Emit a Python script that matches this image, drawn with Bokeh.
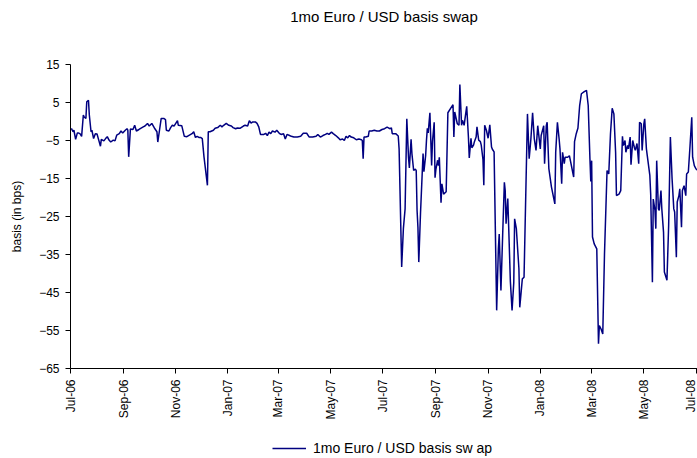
import math
import pandas as pd
from bokeh.plotting import figure
from bokeh.layouts import column
from bokeh.models import (FixedTicker, DatetimeTickFormatter, Range1d, Legend,
                          LegendItem, ColumnDataSource)
from bokeh.embed import file_html
from bokeh.resources import INLINE

# ---- data: days since 2006-07-01 and basis (bps) ----
BASE_DATE = "2006-07-01"

days_h2_2006 = [1, 3, 4, 6, 8, 9, 11, 13, 15, 16,
                18, 19, 21, 22, 24, 25, 27, 29, 31, 33,
                35, 36, 39, 41, 43, 45, 47, 50, 52, 54,
                57, 59, 61, 64, 66, 67, 68, 70, 73, 75,
                77, 80, 82, 85, 87, 90, 92, 95, 98, 101,
                102, 104, 106, 109, 111, 112, 115, 117, 119, 121,
                123, 125, 126, 130, 133, 136, 139, 142, 144, 146,
                148, 150, 152, 154, 156, 160, 161, 163, 167, 169,
                172, 175, 177, 179, 182]
bps_h2_2006 = [-1.8, -2.7, -2.3, -4.7, -3.0, -3.0, -3.2, -3.9, 1.7, 1.2,
               0.8, 5.2, 5.6, 1.7, -2.7, -2.3, -4.5, -3.2, -3.3, -4.9,
               -6.5, -4.7, -5.1, -4.5, -4.0, -4.9, -5.4, -4.9, -5.1, -3.6,
               -3.2, -2.5, -3.0, -2.3, -1.9, -2.3, -9.3, -2.0, -2.1, -1.0,
               -2.5, -2.1, -1.8, -1.4, -1.2, -0.5, -1.2, -0.5, -1.7, -2.7,
               -5.4, -2.3, 0.8, 0.8, 0.5, -2.3, -2.5, -1.6, -1.0, -1.2,
               -0.5, 0.2, -1.0, -1.1, -3.9, -4.0, -3.6, -3.2, -2.7, -4.2,
               -3.9, -4.2, -4.2, -4.5, -9.3, -16.8, -2.7, -2.7, -2.3, -1.8,
               -1.6, -1.0, -1.4, -1.0, -0.5]

days_h1_2007 = [185, 188, 190, 193, 195, 198, 202, 204, 207, 209,
                211, 213, 216, 218, 220, 222, 226, 228, 230, 232,
                234, 236, 239, 241, 244, 246, 249, 251, 253, 256,
                258, 261, 265, 269, 272, 276, 279, 283, 287, 289,
                292, 295, 298, 300, 302, 305, 307, 310, 313, 315,
                318, 320, 322, 324, 326, 328, 331, 334, 337, 340,
                341, 342, 343, 345, 348, 349, 352, 355, 358, 361,
                364, 367, 370, 373, 375, 376]
bps_h1_2007 = [-1.0, -1.2, -1.6, -1.9, -1.7, -1.8, -1.2, -1.0, -1.2, 0.2,
               -0.4, -0.1, -0.1, -0.5, -1.4, -3.4, -3.4, -3.1, -3.7, -2.8,
               -3.2, -2.5, -2.8, -2.3, -3.1, -3.4, -3.2, -4.6, -3.4, -3.7,
               -3.9, -4.1, -4.1, -3.9, -3.1, -3.1, -4.1, -4.1, -3.9, -3.4,
               -4.1, -3.7, -3.4, -3.1, -3.4, -2.8, -3.2, -3.7, -4.3, -4.8,
               -4.6, -5.0, -3.9, -4.3, -3.7, -4.1, -4.3, -4.8, -4.6, -4.8,
               -5.0, -9.8, -4.1, -4.1, -3.9, -2.5, -2.5, -2.3, -2.5, -2.5,
               -2.1, -1.9, -1.5, -1.9, -1.7, -3.2]

days_h2_2007 = [380, 383, 384, 387, 389, 391, 393, 395, 396, 398,
                399, 401, 403, 404, 405, 406, 407, 409, 411, 412,
                413, 415, 416, 417, 418, 420, 422, 423, 425, 426,
                427, 429, 430, 431, 433, 434, 436, 439, 441, 444,
                447, 448, 449, 452, 454, 455, 457, 458, 460, 461,
                463, 465, 466, 468, 469, 471, 472, 474, 475, 477,
                479, 480, 482, 483, 484, 486, 488, 490, 492, 493,
                495, 498, 500, 501, 503, 505, 507, 508, 509, 511,
                512, 514, 516, 518, 519, 521, 524, 525, 528, 530]
bps_h2_2007 = [-3.2, -3.8, -7.2, -38.3, -28.2, -23.0, 0.7, -9.5, -12.2, -4.7,
               -8.5, -12.9, -12.5, -12.9, -23.4, -27.8, -37.0, -24.2, -13.6, -8.4,
               -13.2, -9.0, -4.9, -1.8, -3.0, 2.3, -11.6, -5.3, -0.2, -14.8,
               -12.6, -10.2, -11.6, -9.4, -21.4, -16.4, -19.1, -18.5, 2.3, 3.4,
               4.4, -4.1, 2.5, -0.6, -1.0, 9.7, -1.0, 0.3, -1.0, 0.7,
               4.0, -4.1, -9.6, -4.4, -6.9, -6.2, -5.3, -4.1, -1.4, -4.9,
               -5.3, -6.2, -10.0, -16.8, -1.0, -2.3, -4.4, -0.9, -6.7, -7.3,
               -8.0, -49.7, -33.5, -29.6, -44.5, -30.0, -16.0, -18.2, -26.9, -20.3,
               -27.3, -42.0, -49.7, -42.4, -25.6, -28.2, -38.7, -48.9, -41.4, -41.0]

days_h1_2008 = [534, 536, 538, 540, 542, 544, 546, 549, 550, 553,
                554, 556, 557, 559, 562, 566, 567, 569, 571, 572,
                574, 575, 577, 578, 581, 583, 588, 589, 591, 593,
                595, 597, 600, 603, 605, 607, 608, 609, 610, 612,
                615, 617, 618, 620, 622, 624, 627, 629, 631, 633,
                635, 637, 638, 641, 643, 645, 646, 648, 649, 651,
                652, 654, 655, 657, 659, 660, 662, 664, 665, 667,
                668, 670, 671, 673, 674, 677, 678, 680, 681, 683,
                684, 685, 687, 688, 690, 691, 693, 694, 697, 699,
                701, 703, 705, 706, 708, 709, 711, 712, 714, 715,
                717, 719, 720, 722, 724, 726, 727, 729, 731, 733]
bps_h1_2008 = [2.0, -9.8, -4.6, 2.3, -4.6, -7.6, -1.1, -7.2, -3.7, -1.1,
               -11.1, -1.1, -0.2, -12.4, -17.2, -21.7, -8.1, -0.2, -4.6, -7.2,
               -16.4, -8.1, -11.1, -9.4, -9.4, -9.0, -14.6, -5.3, -3.2, -1.7,
               4.2, 7.3, 7.8, 8.2, 4.2, -9.8, -15.8, -10.3, -30.4, -32.2,
               -33.5, -58.5, -53.7, -54.6, -55.9, -35.0, -12.9, -13.8, -3.3, 3.5,
               2.0, -8.1, -19.5, -19.1, -18.2, -3.9, -6.3, -5.0, -8.1, -6.3,
               -7.2, -4.1, -11.4, -5.0, -6.9, -7.6, -5.8, -11.1, -0.2, -0.6,
               -7.6, -0.6, 0.7, -7.2, -9.0, -14.2, -19.1, -42.3, -20.4, -23.4,
               -28.2, -10.3, -23.0, -23.4, -18.2, -23.0, -29.1, -39.6, -41.8, -27.3,
               -4.1, -15.1, -23.0, -23.8, -35.7, -21.2, -19.5, -17.7, -27.8, -18.2,
               -16.9, -19.5, -13.8, -13.3, -6.3, 1.1, -9.4, -11.6, -12.5, -12.9]

tick_dates = ["2006-07-01", "2006-09-01", "2006-11-01", "2007-01-01", "2007-03-01",
              "2007-05-01", "2007-07-01", "2007-09-01", "2007-11-01", "2008-01-01",
              "2008-03-01", "2008-05-01", "2008-07-01"]
y_ticks = [-65, -55, -45, -35, -25, -15, -5, 5, 15]

TITLE = "1mo Euro / USD basis swap"
SERIES = "1mo Euro / USD basis sw ap"
Y_LABEL = "basis (in bps)"

# ---- build ----
all_days = days_h2_2006 + days_h1_2007 + days_h2_2007 + days_h1_2008
all_bps = bps_h2_2006 + bps_h1_2007 + bps_h2_2007 + bps_h1_2008
assert len(all_days) == len(all_bps)

base = pd.Timestamp(BASE_DATE)
dates = [base + pd.Timedelta(days=d) for d in all_days]
src = ColumnDataSource(dict(date=dates, bps=all_bps))


def ms(ts):
    return pd.Timestamp(ts).value / 1e6


x_start = ms(base)
x_end = ms(base + pd.Timedelta(days=732.7))

FONT = "Liberation Sans"
LINE_COLOR = "#000080"
W = 697


def bare(fig):
    fig.outline_line_color = None
    fig.background_fill_color = "white"
    fig.border_fill_color = "white"
    fig.xgrid.visible = False
    fig.ygrid.visible = False
    return fig


# title strip
pt = figure(width=W, height=40, output_backend="svg", toolbar_location=None,
            title=TITLE, x_axis_location=None, y_axis_location=None,
            min_border_left=70, min_border_right=0, min_border_top=0,
            min_border_bottom=0)
bare(pt)
pt.title.align = "center"
pt.title.text_font = FONT
pt.title.text_font_size = "15px"
pt.title.text_font_style = "normal"
pt.title.text_color = "black"
pt.title.standoff = 10

# main chart
p = figure(width=W, height=388, x_axis_type="datetime", title=None,
           output_backend="svg", toolbar_location=None,
           x_range=Range1d(x_start, x_end), y_range=Range1d(-65, 15),
           min_border_left=70, min_border_right=0, min_border_top=24,
           min_border_bottom=60)
bare(p)
r = p.line("date", "bps", source=src, line_color=LINE_COLOR, line_width=1.5)

xa = p.xaxis[0]
xa.ticker = FixedTicker(ticks=[ms(t) for t in tick_dates])
fmt = "%b-%y"
xa.formatter = DatetimeTickFormatter(milliseconds=fmt, seconds=fmt, minsec=fmt,
                                     minutes=fmt, hourmin=fmt, hours=fmt, days=fmt,
                                     months=fmt, years=fmt)
xa.major_label_orientation = math.pi / 2
xa.major_tick_in = 0
xa.major_tick_out = 5
xa.minor_tick_out = 0
xa.minor_tick_in = 0
xa.major_label_standoff = 6
xa.major_label_text_font = FONT
xa.major_label_text_font_size = "12px"
xa.major_label_text_color = "black"
xa.axis_line_color = "black"
xa.major_tick_line_color = "black"

ya = p.yaxis[0]
ya.ticker = FixedTicker(ticks=y_ticks)
ya.major_tick_in = 0
ya.major_tick_out = 5
ya.minor_tick_out = 0
ya.minor_tick_in = 0
ya.major_label_standoff = 6
ya.major_label_text_font = FONT
ya.major_label_text_font_size = "12px"
ya.major_label_text_color = "black"
ya.axis_line_color = "black"
ya.major_tick_line_color = "black"
ya.axis_label = Y_LABEL
ya.axis_label_text_font = FONT
ya.axis_label_text_font_size = "12px"
ya.axis_label_text_font_style = "normal"
ya.axis_label_text_color = "black"
ya.axis_label_standoff = 12

# legend strip: same series, drawn with its ranges set away from the data
# so that only the legend entry shows
pl = figure(width=W, height=30, output_backend="svg", toolbar_location=None,
            title=None, x_axis_location=None, y_axis_location=None,
            x_range=Range1d(0, 1), y_range=Range1d(0, 1),
            min_border=0)
bare(pl)
lr = pl.line("date", "bps", source=src, line_color=LINE_COLOR, line_width=1.5)
legend = Legend(items=[LegendItem(label=SERIES, renderers=[lr])],
                location=(202, 2), orientation="horizontal",
                glyph_width=34, glyph_height=12, label_standoff=7,
                padding=0, margin=0, spacing=0,
                border_line_alpha=0, background_fill_alpha=0,
                label_text_font=FONT, label_text_font_size="14px",
                label_text_color="black")
pl.add_layout(legend)

layout = column(pt, p, pl, spacing=0)
open("out.html", "w").write(file_html(layout, INLINE))
